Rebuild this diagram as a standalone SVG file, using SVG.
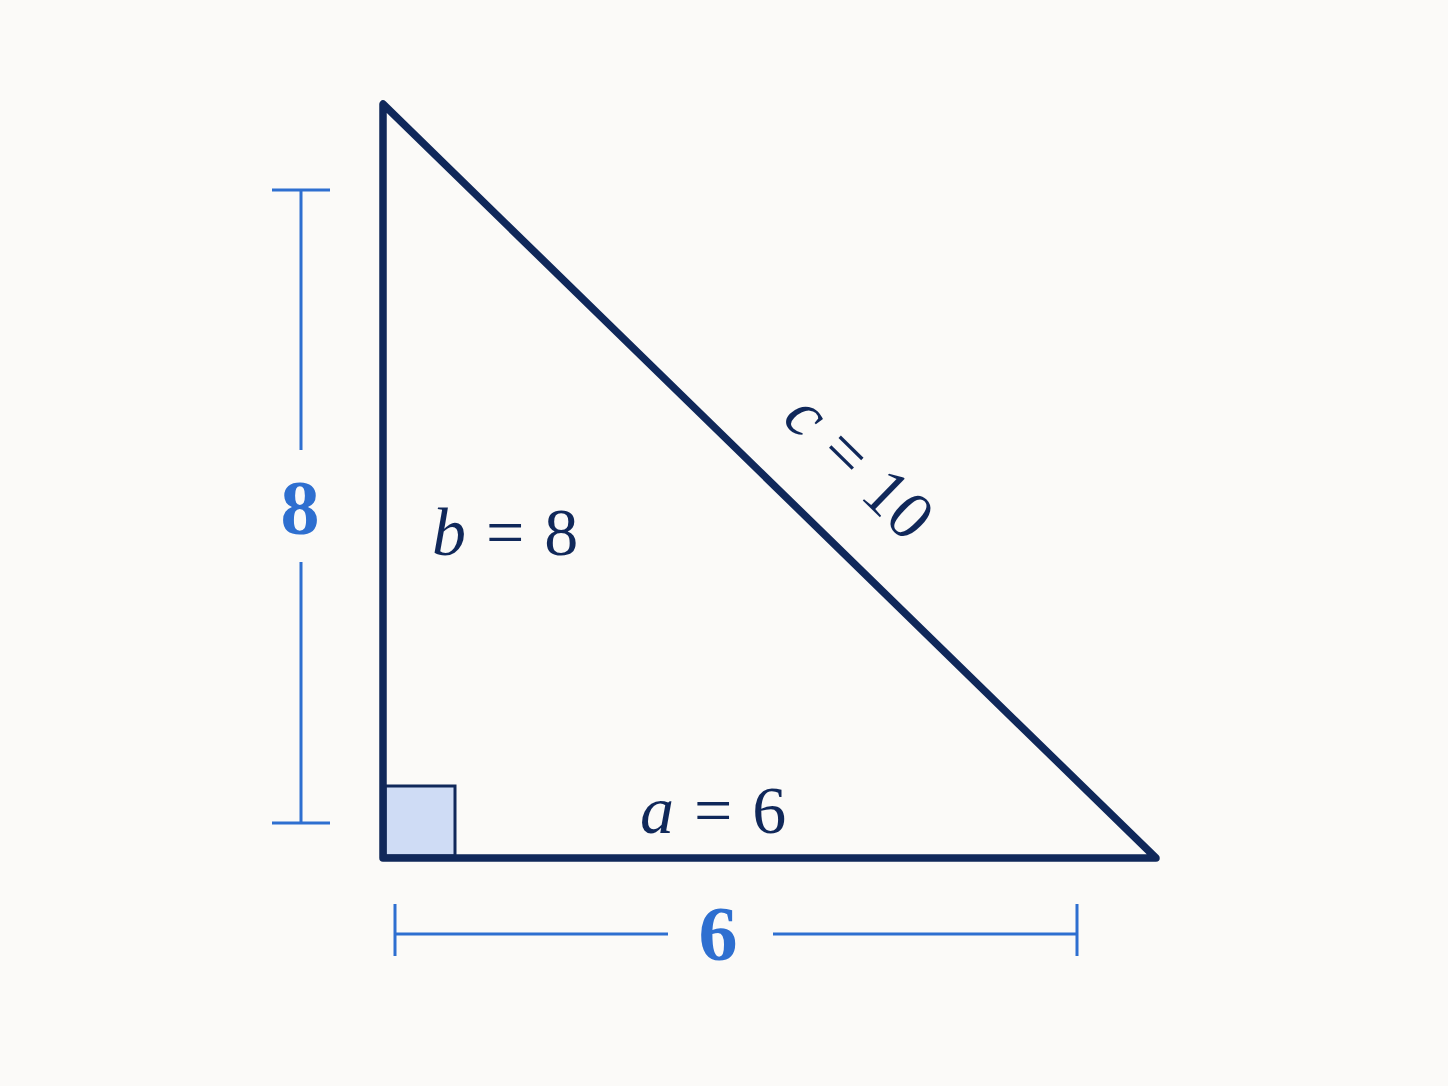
<svg xmlns="http://www.w3.org/2000/svg" width="1448" height="1086" viewBox="0 0 1448 1086">
<defs>
<style>
.tri{fill:none;stroke:#10285a;stroke-width:7.5;stroke-linejoin:round;stroke-linecap:round}
.dim{fill:none;stroke:#2e6fd0;stroke-width:3}
.lab{font-family:"Liberation Serif","DejaVu Serif",serif;fill:#10285a;font-size:68px;word-spacing:3px}
.dl{font-family:"Liberation Serif","DejaVu Serif",serif;fill:#2e6fd0;font-size:78px;font-weight:bold;text-anchor:middle}
</style>
</defs>
<rect width="1448" height="1086" fill="#fbfaf8"/>
<g id="triangle">
<rect x="385" y="786" width="70" height="70" fill="#cfdcf5" stroke="#10285a" stroke-width="3"/>
<path class="tri" d="M383,104 L383,858 L1156,858 Z"/>
</g>
<g id="labels">
<text class="lab" x="432" y="555"><tspan font-style="italic">b</tspan> = 8</text>
<text class="lab" x="640" y="833"><tspan font-style="italic">a</tspan> = 6</text>
<text class="lab" text-anchor="middle" transform="translate(844,482) rotate(44.3)"><tspan font-style="italic">c</tspan> = 10</text>
</g>
<g id="connectors">
<line class="dim" x1="301" y1="190" x2="301" y2="450"/>
<line class="dim" x1="301" y1="562" x2="301" y2="823"/>
<line class="dim" x1="272" y1="190" x2="330" y2="190"/>
<line class="dim" x1="272" y1="823" x2="330" y2="823"/>
<line class="dim" x1="395" y1="934" x2="668" y2="934"/>
<line class="dim" x1="773" y1="934" x2="1077" y2="934"/>
<line class="dim" x1="395" y1="904" x2="395" y2="956"/>
<line class="dim" x1="1077" y1="904" x2="1077" y2="956"/>
</g>
<g id="dimlabels">
<text class="dl" x="300" y="534">8</text>
<text class="dl" x="718" y="960">6</text>
</g>
</svg>
